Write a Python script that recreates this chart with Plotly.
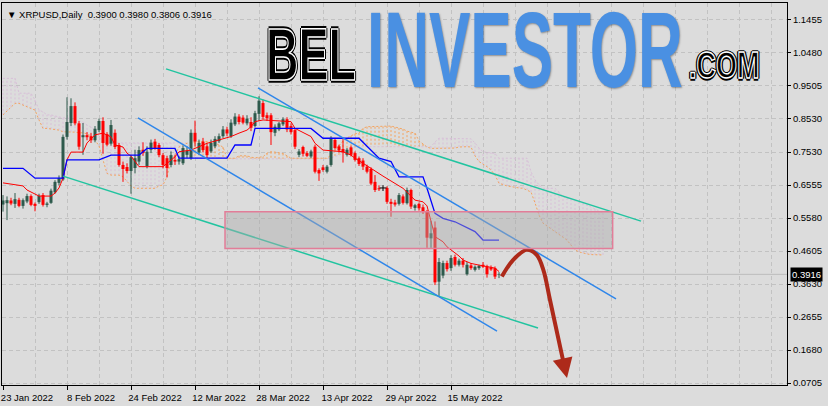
import pandas as pd
import plotly.graph_objects as go

# XRPUSD daily bars, 23 Jan 2022 .. 27 May 2022
opens = [0.598, 0.602, 0.610, 0.600, 0.612, 0.594, 0.607, 0.623, 0.600, 0.605,
         0.626, 0.597, 0.603, 0.634, 0.662, 0.672, 0.798, 0.839, 0.889, 0.838,
         0.797, 0.803, 0.800, 0.788, 0.818, 0.845, 0.806, 0.778, 0.810, 0.774,
         0.715, 0.709, 0.697, 0.706, 0.725, 0.760, 0.712, 0.760, 0.784, 0.774,
         0.744, 0.735, 0.715, 0.730, 0.725, 0.720, 0.745, 0.735, 0.810, 0.752,
         0.784, 0.770, 0.755, 0.770, 0.785, 0.800, 0.820, 0.800, 0.835, 0.858,
         0.855, 0.838, 0.842, 0.830, 0.866, 0.898, 0.862, 0.862, 0.810, 0.820,
         0.835, 0.850, 0.830, 0.818, 0.745, 0.768, 0.750, 0.740, 0.769, 0.700,
         0.708, 0.695, 0.715, 0.789, 0.770, 0.762, 0.745, 0.767, 0.750, 0.735,
         0.728, 0.710, 0.703, 0.665, 0.646, 0.647, 0.647, 0.606, 0.604, 0.600,
         0.622, 0.602, 0.641, 0.588, 0.600, 0.590, 0.577, 0.498, 0.530, 0.370,
         0.388, 0.425, 0.410, 0.443, 0.420, 0.432, 0.392, 0.418, 0.405, 0.410,
         0.420, 0.415, 0.412, 0.410, 0.3900]
highs = [0.626, 0.622, 0.618, 0.632, 0.618, 0.616, 0.630, 0.628, 0.604, 0.630,
         0.632, 0.606, 0.645, 0.670, 0.684, 0.805, 0.915, 0.912, 0.900, 0.845,
         0.839, 0.812, 0.810, 0.830, 0.852, 0.856, 0.812, 0.848, 0.820, 0.780,
         0.725, 0.720, 0.745, 0.760, 0.770, 0.782, 0.770, 0.790, 0.792, 0.780,
         0.750, 0.742, 0.755, 0.745, 0.742, 0.772, 0.770, 0.820, 0.846, 0.790,
         0.795, 0.778, 0.790, 0.800, 0.808, 0.830, 0.828, 0.850, 0.868, 0.865,
         0.862, 0.862, 0.856, 0.875, 0.918, 0.908, 0.870, 0.868, 0.835, 0.842,
         0.856, 0.856, 0.838, 0.824, 0.762, 0.772, 0.756, 0.760, 0.775, 0.705,
         0.715, 0.715, 0.800, 0.795, 0.775, 0.795, 0.765, 0.772, 0.755, 0.740,
         0.735, 0.716, 0.708, 0.685, 0.655, 0.655, 0.652, 0.615, 0.612, 0.632,
         0.628, 0.648, 0.645, 0.600, 0.604, 0.598, 0.582, 0.550, 0.548, 0.440,
         0.432, 0.432, 0.448, 0.450, 0.438, 0.440, 0.428, 0.425, 0.418, 0.420,
         0.428, 0.420, 0.418, 0.415, 0.3980]
lows = [0.577, 0.552, 0.596, 0.588, 0.590, 0.586, 0.602, 0.593, 0.578, 0.600,
        0.592, 0.590, 0.600, 0.630, 0.655, 0.668, 0.790, 0.830, 0.832, 0.760,
        0.745, 0.788, 0.780, 0.782, 0.812, 0.748, 0.770, 0.772, 0.762, 0.710,
        0.665, 0.690, 0.630, 0.690, 0.715, 0.742, 0.705, 0.750, 0.760, 0.738,
        0.705, 0.678, 0.708, 0.715, 0.716, 0.715, 0.735, 0.730, 0.770, 0.745,
        0.752, 0.735, 0.750, 0.765, 0.780, 0.795, 0.800, 0.795, 0.830, 0.835,
        0.835, 0.832, 0.815, 0.826, 0.845, 0.850, 0.845, 0.774, 0.800, 0.815,
        0.830, 0.812, 0.805, 0.762, 0.738, 0.740, 0.738, 0.735, 0.690, 0.668,
        0.695, 0.690, 0.710, 0.760, 0.752, 0.722, 0.740, 0.740, 0.725, 0.712,
        0.700, 0.690, 0.655, 0.635, 0.638, 0.638, 0.600, 0.562, 0.592, 0.595,
        0.598, 0.598, 0.585, 0.580, 0.580, 0.570, 0.470, 0.470, 0.360, 0.328,
        0.380, 0.400, 0.402, 0.415, 0.415, 0.412, 0.388, 0.405, 0.400, 0.405,
        0.410, 0.382, 0.402, 0.378, 0.3806]
closes = [0.610, 0.611, 0.601, 0.614, 0.594, 0.611, 0.623, 0.597, 0.594, 0.624,
          0.597, 0.601, 0.639, 0.665, 0.676, 0.798, 0.842, 0.889, 0.838, 0.769,
          0.803, 0.797, 0.788, 0.822, 0.845, 0.780, 0.775, 0.833, 0.768, 0.715,
          0.703, 0.697, 0.738, 0.735, 0.759, 0.750, 0.754, 0.781, 0.765, 0.744,
          0.715, 0.706, 0.744, 0.725, 0.732, 0.765, 0.757, 0.810, 0.784, 0.780,
          0.759, 0.744, 0.780, 0.792, 0.800, 0.820, 0.808, 0.840, 0.858, 0.842,
          0.840, 0.852, 0.825, 0.868, 0.905, 0.857, 0.853, 0.812, 0.828, 0.838,
          0.850, 0.820, 0.812, 0.769, 0.755, 0.748, 0.742, 0.755, 0.695, 0.690,
          0.700, 0.710, 0.795, 0.765, 0.758, 0.752, 0.760, 0.745, 0.730, 0.718,
          0.710, 0.695, 0.660, 0.641, 0.643, 0.647, 0.606, 0.600, 0.598, 0.626,
          0.603, 0.641, 0.592, 0.596, 0.587, 0.577, 0.500, 0.513, 0.368, 0.428,
          0.425, 0.407, 0.440, 0.420, 0.432, 0.420, 0.420, 0.410, 0.414, 0.417,
          0.414, 0.392, 0.406, 0.385, 0.3916]

# Ichimoku Tenkan / Kijun, read as (bar number, price) vertices
tenkan_bar = [0, 5, 6, 9, 12, 13, 14, 15, 16, 17, 20, 21, 23, 25, 27, 28, 30, 31, 32, 34,
              40, 43, 44, 47, 51, 54, 57, 59, 61, 62, 63, 65, 72, 73, 77, 78, 80, 85, 87, 88,
              90, 92, 95, 98, 100, 103, 105, 106, 107, 108, 110, 111, 112, 114, 115, 117, 119, 121, 123, 124]
tenkan = [0.662, 0.653, 0.641, 0.623, 0.623, 0.632, 0.647, 0.676, 0.730, 0.753,
          0.753, 0.780, 0.804, 0.809, 0.798, 0.774, 0.768, 0.750, 0.741, 0.710,
          0.710, 0.739, 0.754, 0.759, 0.779, 0.789, 0.799, 0.809, 0.818, 0.828,
          0.843, 0.848, 0.843, 0.823, 0.799, 0.779, 0.759, 0.754, 0.744, 0.735,
          0.721, 0.705, 0.682, 0.661, 0.646, 0.611, 0.606, 0.594, 0.549, 0.503,
          0.488, 0.473, 0.464, 0.446, 0.434, 0.424, 0.419, 0.414, 0.410, 0.400]
kijun_bar = [0, 5, 8, 15, 16, 24, 27, 34, 36, 43, 44, 56, 58, 62, 63, 77, 80, 89, 94, 97,
             99, 105, 106, 107, 108, 110, 113, 118, 120, 124]
kijun = [0.705, 0.705, 0.676, 0.676, 0.730, 0.730, 0.744, 0.744, 0.764, 0.764,
         0.735, 0.735, 0.774, 0.774, 0.823, 0.823, 0.794, 0.794, 0.735, 0.725,
         0.680, 0.680, 0.646, 0.611, 0.572, 0.557, 0.547, 0.518, 0.493, 0.493]

# Senkou spans, one value per bar from 23 Jan (already shifted 26 bars ahead)
span_a = [0.863, 0.875, 0.887, 0.897, 0.897, 0.892, 0.887, 0.883, 0.877, 0.848,
          0.823, 0.823, 0.821, 0.818, 0.818, 0.813, 0.813, 0.813, 0.812, 0.810,
          0.810, 0.807, 0.801, 0.789, 0.771, 0.730, 0.690, 0.685, 0.685, 0.685,
          0.680, 0.665, 0.653, 0.646, 0.646, 0.646, 0.646, 0.646, 0.646, 0.653,
          0.656, 0.680, 0.730, 0.744, 0.768, 0.774, 0.779, 0.781, 0.783, 0.784,
          0.784, 0.784, 0.781, 0.779, 0.774, 0.768, 0.735, 0.735, 0.735, 0.742,
          0.742, 0.742, 0.738, 0.736, 0.738, 0.739, 0.750, 0.754, 0.753, 0.750,
          0.749, 0.742, 0.735, 0.735, 0.735, 0.735, 0.735, 0.735, 0.735, 0.735,
          0.735, 0.735, 0.744, 0.759, 0.774, 0.786, 0.795, 0.801, 0.807, 0.809,
          0.823, 0.828, 0.828, 0.828, 0.828, 0.829, 0.830, 0.830, 0.827, 0.824,
          0.821, 0.815, 0.811, 0.809, 0.786, 0.777, 0.768, 0.764, 0.764, 0.764,
          0.764, 0.764, 0.764, 0.765, 0.768, 0.769, 0.769, 0.768, 0.742, 0.725,
          0.718, 0.710, 0.700, 0.685, 0.661, 0.656, 0.653, 0.651, 0.648, 0.647,
          0.646, 0.641, 0.635, 0.603, 0.567, 0.543, 0.535, 0.526, 0.517, 0.511,
          0.502, 0.493, 0.478, 0.464, 0.458, 0.454, 0.452, 0.450, 0.449, 0.449,
          0.449]
span_b = [0.971, 0.971, 0.971, 0.971, 0.927, 0.927, 0.927, 0.927, 0.907, 0.877,
          0.872, 0.863, 0.863, 0.860, 0.857, 0.854, 0.854, 0.851, 0.848, 0.845,
          0.842, 0.833, 0.827, 0.818, 0.798, 0.780, 0.780, 0.780, 0.780, 0.780,
          0.780, 0.780, 0.780, 0.780, 0.780, 0.780, 0.780, 0.780, 0.780, 0.780,
          0.780, 0.780, 0.780, 0.780, 0.780, 0.780, 0.780, 0.759, 0.736, 0.736,
          0.736, 0.736, 0.736, 0.736, 0.736, 0.736, 0.733, 0.733, 0.733, 0.733,
          0.733, 0.733, 0.733, 0.733, 0.733, 0.733, 0.733, 0.733, 0.733, 0.733,
          0.733, 0.733, 0.733, 0.733, 0.733, 0.733, 0.733, 0.733, 0.733, 0.733,
          0.733, 0.733, 0.736, 0.739, 0.744, 0.750, 0.756, 0.762, 0.767, 0.769,
          0.769, 0.769, 0.769, 0.769, 0.769, 0.769, 0.769, 0.769, 0.769, 0.769,
          0.769, 0.769, 0.769, 0.769, 0.769, 0.769, 0.769, 0.769, 0.783, 0.794,
          0.794, 0.794, 0.794, 0.794, 0.794, 0.794, 0.794, 0.792, 0.780, 0.765,
          0.754, 0.753, 0.752, 0.749, 0.735, 0.735, 0.735, 0.735, 0.735, 0.735,
          0.735, 0.735, 0.695, 0.671, 0.656, 0.646, 0.646, 0.646, 0.646, 0.635,
          0.621, 0.617, 0.614, 0.611, 0.607, 0.602, 0.597, 0.591, 0.585, 0.579,
          0.573]

price_ticks = [1.1455, 1.0480, 0.9505, 0.8530, 0.7530, 0.6555,
               0.5580, 0.4605, 0.3630, 0.2655, 0.1680, 0.0705]
date_labels = ["23 Jan 2022", "8 Feb 2022", "24 Feb 2022", "12 Mar 2022",
               "28 Mar 2022", "13 Apr 2022", "29 Apr 2022", "15 May 2022"]

# analyst drawings: channel lines, resistance zone, projected path
green_lines = [(("2022-03-04 18:00", 0.999), ("2022-07-01 12:00", 0.549)),
               (("2022-02-07 00:00", 0.682), ("2022-06-05 18:00", 0.233))]
blue_lines = [(("2022-03-27 18:00", 0.943), ("2022-06-25 06:00", 0.319)),
              (("2022-02-25 18:00", 0.854), ("2022-05-26 12:00", 0.224))]
zone = (("2022-03-19 12:00", 0.577), ("2022-06-24 10:00", 0.468))
path_x = ["2022-05-27 17:00", "2022-05-30 12:00", "2022-06-02 22:00", "2022-06-05 10:00",
          "2022-06-07 02:00", "2022-06-08 18:00", "2022-06-12 00:00"]
path_y = [0.385, 0.434, 0.464, 0.449, 0.405, 0.316, 0.138]
path_tip = ("2022-06-13 00:00", 0.085)

start = pd.Timestamp("2022-01-23")
dates = pd.date_range(start, periods=len(closes), freq="D")
cloud_dates = pd.date_range(start, periods=len(span_a), freq="D")
day = pd.Timedelta(days=1)

FONT = "Liberation Sans, Arial, sans-serif"
BULL, BEAR = "#2e5a4c", "#ff0000"


def segments(idx, lo, hi, xs):
    px, py = [], []
    for i in idx:
        px += [xs[i], xs[i], None]
        py += [lo[i], hi[i], None]
    return px, py


fig = go.Figure()

# cloud hatch: dotted vertical line per bar, colour by the upper span
for colour, pick in [("#d8bfd8", lambda a, b: b >= a), ("#f4a460", lambda a, b: a > b)]:
    idx = [i for i in range(len(span_a)) if pick(span_a[i], span_b[i])]
    hx, hy = segments(idx, span_a, span_b, cloud_dates)
    fig.add_trace(go.Scatter(x=hx, y=hy, mode="lines",
                             line=dict(color=colour, width=1, dash="2px,2px")))
fig.add_trace(go.Scatter(x=cloud_dates, y=span_b, mode="lines",
                         line=dict(color="#d8bfd8", width=1, dash="2px,2px")))
fig.add_trace(go.Scatter(x=cloud_dates, y=span_a, mode="lines",
                         line=dict(color="#f4a460", width=1, dash="2px,2px")))

# candles
groups = [(BULL, [i for i in range(len(closes)) if closes[i] > opens[i]]),
          (BEAR, [i for i in range(len(closes)) if closes[i] < opens[i]]),
          ("#000000", [i for i in range(len(closes)) if closes[i] == opens[i]])]
for colour, idx in groups:
    wx, wy = segments(idx, lows, highs, dates)
    fig.add_trace(go.Scatter(x=wx, y=wy, mode="lines", line=dict(color=colour, width=1)))
    bx, by = segments(idx, opens, closes, dates)
    fig.add_trace(go.Scatter(x=bx, y=by, mode="lines", line=dict(color=colour, width=3)))
    fig.add_trace(go.Scatter(x=[dates[i] for i in idx if opens[i] == closes[i]],
                             y=[closes[i] for i in idx if opens[i] == closes[i]],
                             mode="markers",
                             marker=dict(symbol="line-ew", size=5, line=dict(color=colour, width=1))))

fig.add_trace(go.Scatter(x=[start + b * day for b in tenkan_bar], y=tenkan, mode="lines",
                         line=dict(color="#ff0000", width=1)))
fig.add_trace(go.Scatter(x=[start + b * day for b in kijun_bar], y=kijun, mode="lines",
                         line=dict(color="#0000ff", width=1.3)))

for colour, lines in [("#22c4a0", green_lines), ("#2f86ea", blue_lines)]:
    for (x0, y0), (x1, y1) in lines:
        fig.add_trace(go.Scatter(x=[x0, x1], y=[y0, y1], mode="lines",
                                 line=dict(color=colour, width=1.5)))

fig.add_trace(go.Scatter(x=path_x, y=path_y, mode="lines",
                         line=dict(color="#ad2a1a", width=4, shape="spline")))

fig.add_shape(type="rect", x0=zone[0][0], x1=zone[1][0], y0=zone[0][1], y1=zone[1][1],
              line=dict(color="#e27d98", width=1.5), fillcolor="rgba(170,170,170,0.45)",
              layer="above")
fig.add_shape(type="line", xref="paper", x0=0, x1=1, y0=closes[-1], y1=closes[-1],
              line=dict(color="#bdbdbd", width=1), layer="below")

fig.add_annotation(x=path_tip[0], y=path_tip[1], ax=path_x[-1], ay=path_y[-1],
                   axref="x", ayref="y", text="", showarrow=True,
                   arrowhead=2, arrowsize=1, arrowwidth=4, arrowcolor="#ad2a1a")

title = "\u25bc XRPUSD,Daily\u00a0\u00a0" + " ".join(
    f"{v:.4f}" for v in [opens[-1], highs[-1], lows[-1], closes[-1]])
fig.add_annotation(text=title, xref="paper", yref="paper", x=0.004, y=0.99,
                   xanchor="left", yanchor="top", showarrow=False,
                   font=dict(family=FONT, size=9.5, color="black"))
fig.add_annotation(text=f"{closes[-1]:.4f}", xref="paper", yref="y", x=1, y=closes[-1],
                   xanchor="left", xshift=3, showarrow=False, bgcolor="black", borderpad=1,
                   font=dict(family=FONT, size=9.5, color="white"))

# site logo
outline = "1.5px 0 0 #000, -1.5px 0 0 #000, 0 1.5px 0 #000, 0 -1.5px 0 #000"
fig.add_annotation(text="BEL", xref="paper", yref="paper", x=0.3936, y=0.8639,
                   xanchor="center", yanchor="middle", showarrow=False,
                   font=dict(family=FONT, size=45, color="black", weight="bold", shadow=outline))
fig.add_annotation(text="INVESTOR", xref="paper", yref="paper", x=0.6662, y=0.8770,
                   xanchor="center", yanchor="middle", showarrow=False,
                   font=dict(family=FONT, size=62, color="#4a90e2", weight="bold",
                             shadow="1px 1px 2px rgba(0,0,0,0.35)"))
fig.add_annotation(text=".COM", xref="paper", yref="paper", x=0.9210, y=0.8351,
                   xanchor="center", yanchor="middle", showarrow=False,
                   font=dict(family=FONT, size=27, color="black", weight="bold", shadow=outline))

grid = dict(showgrid=True, gridcolor="#c2c2c2", griddash="4px,3px", gridwidth=1)
fig.update_xaxes(type="date", range=["2022-01-22 18:00", "2022-08-07 00:00"],
                 tickvals=pd.date_range(start, periods=len(date_labels), freq="16D"),
                 ticktext=date_labels, ticks="outside", ticklen=4, tickcolor="black",
                 ticklabelshift=24, tickfont=dict(family=FONT, size=9.5, color="black"),
                 minor=dict(tickvals=pd.date_range(start, "2022-08-07", freq="8D"),
                            ticks="", **grid),
                 showline=True, linecolor="black", mirror=True, zeroline=False, **grid)
fig.update_yaxes(side="right", range=[0.0646, 1.1937], tickvals=price_ticks,
                 ticktext=[f"{v:.4f}" for v in price_ticks], ticks="outside", ticklen=3,
                 tickcolor="black", tickfont=dict(family=FONT, size=9.5, color="black"),
                 showline=True, linecolor="black", mirror=True, zeroline=False, **grid)
fig.update_layout(width=828, height=406, autosize=False, showlegend=False, hovermode=False,
                  margin=dict(l=2, r=41, t=3, b=21),
                  paper_bgcolor="#dcdcdc", plot_bgcolor="#dcdcdc")

# page without body margin; stretch the logo letters vertically (condensed display face)
stretch_js = """
document.body.style.margin = '0';
var gd = document.getElementById('{plot_id}');
var k = {"BEL": 1.64, "INVESTOR": 1.74, ".COM": 1.38};
function stretch() {
  gd.querySelectorAll('text.annotation-text').forEach(function (t) {
    var s = k[t.textContent];
    if (!s) return;
    if (t.textContent !== 'INVESTOR') {
      t.style.stroke = '#ffffff';
      t.style.strokeWidth = '1px';
    }
    var b = t.getBBox(), cy = b.y + b.height / 2;
    t.setAttribute('transform', 'translate(0,' + cy + ') scale(1,' + s + ') translate(0,' + (-cy) + ')');
  });
}
stretch();
gd.on('plotly_afterplot', stretch);
"""
fig.write_html("out.html", post_script=stretch_js, config={"displayModeBar": False})
